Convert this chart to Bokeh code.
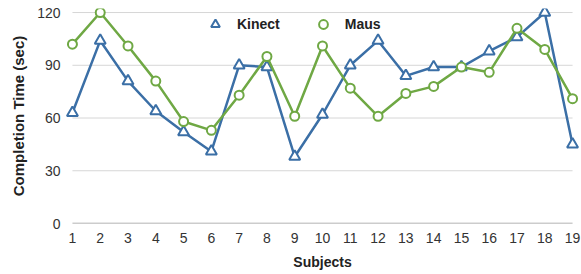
from bokeh.plotting import figure
from bokeh.models import Range1d, Legend, LegendItem, FixedTicker, ColumnDataSource
from bokeh.embed import file_html
from bokeh.resources import INLINE

subjects = list(range(1, 20))
kinect = [63, 104, 81, 64, 52, 41, 90, 89, 38, 62, 90, 104, 84, 89, 89, 98, 106, 120, 45]
maus = [102, 120, 101, 81, 58, 53, 73, 95, 61, 101, 77, 61, 74, 78, 89, 86, 111, 99, 71]
y_ticks = [0, 30, 60, 90, 120]
grid_y = [30, 60, 90, 120]

BLUE = "#3b6fa6"
GREEN = "#6fa844"
FONT = "Liberation Sans"

p = figure(width=581, height=273, output_backend="svg", toolbar_location=None,
           x_range=Range1d(0.75, 19.25), y_range=Range1d(0, 122.3),
           min_border_top=8, min_border_right=2, min_border_left=65, min_border_bottom=50)
p.outline_line_color = None
p.xgrid.visible = False
p.ygrid.visible = False

# grid lines spanning subjects 1..19
p.segment(x0=[subjects[0]] * len(grid_y), x1=[subjects[-1]] * len(grid_y), y0=grid_y, y1=grid_y,
          line_color="#d6d6d6", line_width=1)
p.segment(x0=[subjects[0]], x1=[subjects[-1]], y0=[y_ticks[0]], y1=[y_ticks[0]],
          line_color="#9a9a9a", line_width=1.3)

src = ColumnDataSource(dict(x=subjects, k=kinect, m=maus))
kl = p.line("x", "k", source=src, line_color=BLUE, line_width=2.5)
ks = p.scatter("x", "k", source=src, marker="triangle", size=11, line_color=BLUE,
               line_width=2, fill_color="white")
ml = p.line("x", "m", source=src, line_color=GREEN, line_width=2.5)
ms = p.scatter("x", "m", source=src, marker="circle", size=9, line_color=GREEN,
               line_width=2, fill_color="white")

p.xaxis.ticker = FixedTicker(ticks=subjects)
p.yaxis.ticker = FixedTicker(ticks=y_ticks)
for ax in (p.xaxis[0], p.yaxis[0]):
    ax.axis_line_color = None
    ax.major_tick_line_color = None
    ax.minor_tick_line_color = None
    ax.major_tick_out = 0
    ax.major_tick_in = 0
    ax.minor_tick_out = 0
    ax.minor_tick_in = 0
    ax.major_label_text_font = FONT
    ax.major_label_text_font_size = "14px"
    ax.major_label_text_color = "#333333"
    ax.axis_label_text_font = FONT
    ax.axis_label_text_font_style = "bold"
    ax.axis_label_text_color = "#222222"
p.xaxis.axis_label_text_font_size = "14px"
p.yaxis.axis_label_text_font_size = "15px"
p.xaxis.major_label_standoff = 9
p.yaxis.major_label_standoff = 5
p.xaxis.axis_label = "Subjects"
p.yaxis.axis_label = "Completion Time (sec)"
p.xaxis.axis_label_standoff = 8
p.yaxis.axis_label_standoff = 7

legend = Legend(items=[LegendItem(label="Kinect", renderers=[ks]),
                       LegendItem(label="Maus", renderers=[ms])],
                orientation="horizontal", location=(139, 188),
                border_line_color=None, background_fill_alpha=0,
                padding=0, margin=0, spacing=32, glyph_width=22, glyph_height=22,
                label_standoff=11, label_text_font=FONT, label_text_font_size="14px",
                label_text_font_style="bold", label_text_color="#222222")
p.add_layout(legend)

open("out.html", "w").write(file_html(p, INLINE))
